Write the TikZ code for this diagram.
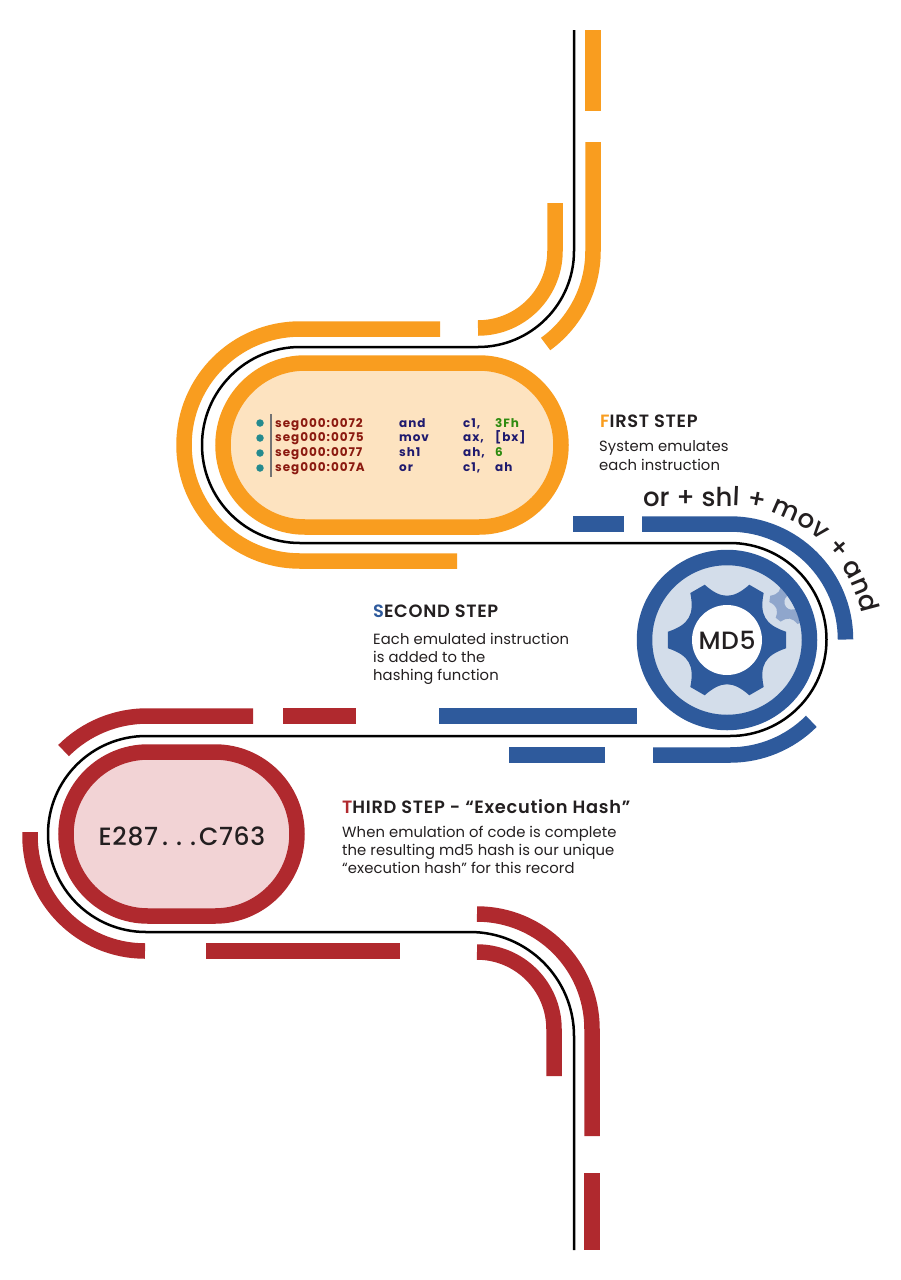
\documentclass[tikz,border=0pt]{standalone}
\usepackage{fontspec}
\setmainfont{Poppins}
\newfontfamily\pmed{Poppins Medium}
\newfontfamily\pmedsp[LetterSpace=2.5]{Poppins Medium}
\newfontfamily\psemi[LetterSpace=4]{Poppins SemiBold}
\newfontfamily\pcode[LetterSpace=8]{Poppins}
\setmainfont[LetterSpace=0.5]{Poppins}
\usetikzlibrary{decorations.text}
\definecolor{org}{HTML}{F99D1F}
\definecolor{blu}{HTML}{2E5A9C}
\definecolor{rd}{HTML}{B0292E}
\definecolor{ink}{HTML}{231F20}
\definecolor{codered}{HTML}{8B1A10}
\definecolor{codeblue}{HTML}{1F1A6E}
\definecolor{codegreen}{HTML}{2E8B10}
\definecolor{orgfill}{HTML}{FDE3C0}
\definecolor{rdfill}{HTML}{F2D3D5}
\definecolor{teald}{HTML}{258A8E}
\definecolor{palegear}{HTML}{8FA6CC}
\definecolor{wheelfill}{HTML}{D3DDEA}
\tikzset{
  band/.style={line width=15.5pt,line cap=butt},
  track/.style={line width=2.5pt,black,line join=round},
  head/.style={anchor=base west,inner sep=0pt,font=\fontsize{17.8}{19}\selectfont\psemi,text=ink},
  body/.style={anchor=base west,inner sep=0pt,font=\fontsize{14.8}{18}\selectfont,text=ink},
  code/.style={anchor=base west,inner sep=0pt,font=\fontsize{12}{14}\selectfont\pcode\bfseries},
  bigtext/.style={inner sep=0pt,text=ink,font=\fontsize{25}{27}\selectfont\pmedsp},
  dot/.style={circle,fill=teald,inner sep=0pt,minimum size=7.5pt},
}
\begin{document}
\begin{tikzpicture}[x=1pt,y=-1pt]
\useasboundingbox (0,0) rectangle (900,1280);
\fill[white] (0,0) rectangle (900,1280);
% track
\draw[track] (574,30) -- (574,251) arc (0:90:96) -- (300,347) arc (270:90:98) -- (730,543) arc (-90:90:96.5) -- (146,736) arc (270:90:98) -- (470,932) arc (-90:0:104) -- (574,1250);
% orange
\draw[band,org] (593,30) -- (593,111);
\draw[band,org] (593,142) -- (593,251) arc (0:54:115);
\draw[band,org] (555,203) -- (555,251) arc (0:90:77);
\draw[band,org] (440,329) -- (300,329) arc (270:90:116) -- (457,561);
\draw[line width=15.5pt,org,fill=orgfill,rounded corners=82] (223,363) rectangle (561,527);
% blue
\draw[band,blu] (573,524) -- (624,524);
\draw[band,blu] (642,524) -- (730,524) arc (-90:0:115.5);
\draw[band,blu] (439,716) -- (637,716);
\draw[band,blu] (509,755) -- (605,755);
\draw[band,blu] (653,755) -- (730,755) arc (90:45:115);
% red
\draw[band,rd] (253,716) -- (147,716) arc (270:225:118);
\draw[band,rd] (283,716) -- (356,716);
\draw[line width=15.5pt,rd,fill=rdfill,rounded corners=82] (66,752) rectangle (297,916);
\draw[band,rd] (30,832) -- (30,836) arc (180:90:115);
\draw[band,rd] (206,951) -- (400,951);
\draw[band,rd] (477,914) arc (-90:0:115) -- (592,1136);
\draw[band,rd] (477,952) arc (-90:0:77) -- (554,1076);
\draw[band,rd] (592,1173) -- (592,1250);
% MD5 wheel
\fill[wheelfill] (727,640) circle (75);
\begin{scope}
\clip (727,640) circle (75);
\begin{scope}[shift={(792,602)},scale=0.38,rotate=-8]
\fill[palegear] (8:59.6) foreach \a in {0,60,...,300}{ .. controls (\a+22:41) and (\a+38:41) .. (\a+52:59.6) -- (\a+68:59.6) } -- cycle;
\fill[wheelfill] (0,0) circle (20);
\end{scope}
\end{scope}
\draw[blu,line width=15.5pt] (727,640) circle (82.5);
\begin{scope}[shift={(727,640)}]
\fill[blu] (8:59.6) foreach \a in {0,60,...,300}{ .. controls (\a+22:41) and (\a+38:41) .. (\a+52:59.6) -- (\a+68:59.6) } -- cycle;
\fill[white] (0,0) circle (35);
\end{scope}
\node[bigtext] (md) at (727,640) {MD5};
\node[bigtext] (hash) at (182,836) {E287\hspace{4pt}.\hspace{8pt}.\hspace{8pt}.\hspace{3pt}C763};
% curved text
\path[postaction={decorate},decoration={text along path,text align=left,
  text={|\fontsize{26}{28}\selectfont\pmed\color{ink}|or + shl + mov + and}}]
  (643,506) -- (730,506) arc (-90:-10:134);
% code
\foreach \y/\n in {423/a,438/b,453/c,468/d}{\node[dot] (dot\n) at (260,\y) {};}
\draw[line width=1.2pt,black!55] (271,414) -- (271,477);
\foreach \y/\s/\o/\r/\v/\c in {
 427/0072/and/c1/3Fh/codegreen,
 441.5/0075/mov/ax/[bx]/codeblue,
 456.5/0077/sh1/ah/6/codegreen,
 471.5/007A/or/c1/ah/codeblue}{
 \node[code,text=codered] at (275,\y) {seg000:\s};
 \node[code,text=codeblue] at (399,\y) {\o};
 \node[code,text=codeblue] at (463,\y) {\r,};
 \node[code,text=\c] at (495,\y) {\v};
}
% text
\node[head] (h1) at (600,427) {\textcolor{org}{F}IRST STEP};
\node[body] (b1a) at (599,451) {System emulates};
\node[body] (b1b) at (599,470) {each instruction};
\node[head] (h2) at (373,617) {\textcolor{blu}{S}ECOND STEP};
\node[body] (b2a) at (373,644) {Each emulated instruction};
\node[body] (b2b) at (373,662) {is added to the};
\node[body] (b2c) at (373,680) {hashing function};
\node[head] (h3) at (342,813) {\textcolor{rd}{T}HIRD STEP - “Execution Hash”};
\node[body] (b3a) at (342,837) {When emulation of code is complete};
\node[body] (b3b) at (342,855) {the resulting md5 hash is our unique};
\node[body] (b3c) at (342,873) {“execution hash” for this record};
\end{tikzpicture}
\end{document}
